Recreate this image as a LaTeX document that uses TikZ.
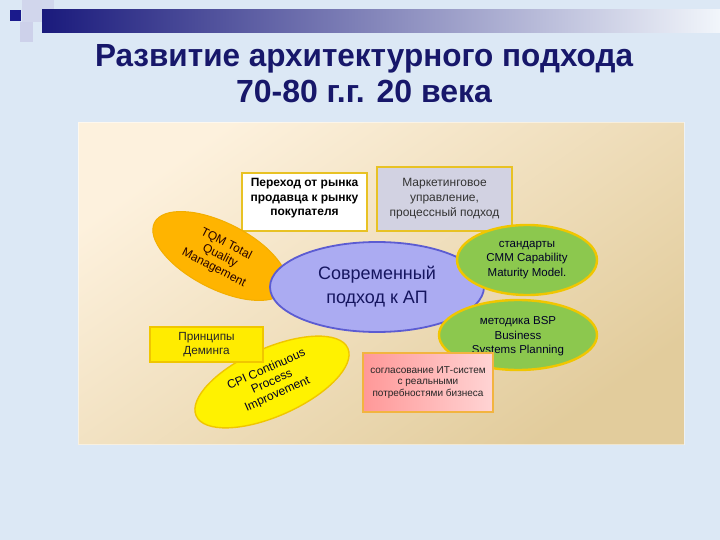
\documentclass[tikz,border=0pt]{standalone}
\usepackage{fontspec}
\usepackage{graphicx}
\setmainfont{Liberation Sans}
\usetikzlibrary{shapes.geometric}
\definecolor{bg}{HTML}{DCE8F5}
\definecolor{navy}{HTML}{17176A}
\definecolor{barL}{HTML}{1A1A7C}
\definecolor{barR}{HTML}{F2F6FB}
\definecolor{panelA}{HTML}{FDF1DD}
\definecolor{panelB}{HTML}{E2CC9C}
\definecolor{boxgold}{HTML}{E8C224}
\definecolor{box2fill}{HTML}{D2D2E2}
\definecolor{tqmfill}{HTML}{FFB400}
\definecolor{tqmline}{HTML}{F2AE00}
\definecolor{centfill}{HTML}{ABABF2}
\definecolor{centline}{HTML}{5C5CD2}
\definecolor{greenfill}{HTML}{8CC84E}
\definecolor{greenline}{HTML}{F0C600}
\definecolor{yelfill}{HTML}{FFEC00}
\definecolor{cpifill}{HTML}{FFF200}
\definecolor{pinkL}{HTML}{FF9898}
\definecolor{pinkR}{HTML}{FFD4D4}
\definecolor{pinkline}{HTML}{F2B440}
\definecolor{sqdark}{HTML}{1A1A8C}
\definecolor{sqlight}{HTML}{C8C8E6}
\begin{document}
\begin{tikzpicture}[x=1pt,y=-1pt,
  box/.style={draw=boxgold, line width=1.8pt, inner sep=0pt, align=center},
  ell/.style={ellipse, inner sep=0pt, align=center},
  small/.style={font=\fontsize{11.5}{14.5}\selectfont},
  titlefont/.style={font=\bfseries\fontsize{32}{36}\selectfont, text=navy, inner sep=0pt, anchor=base}]
\useasboundingbox (0,0) rectangle (720,540);
\fill[bg] (0,0) rectangle (720,540);
% decoration squares and bar
\fill[sqlight, opacity=0.55] (22,0) rectangle (42,22);
\fill[sqlight, opacity=0.7] (20,22) rectangle (33,42);
\fill[sqlight, opacity=0.5] (42,0) rectangle (54,22);
\shade[left color=barL, right color=barR] (42,10) rectangle (720,33);
\fill[sqdark] (10,10) rectangle (21,21);
% title
\node[titlefont] (t1) at (364,67) {\resizebox{538pt}{\height}{Развитие архитектурного подхода}};
\node[titlefont] (t2) at (364,103) {70-80 г.г. 20 века};
% panel
\shade[top color=panelA, bottom color=panelB, shading angle=35] (78,123) rectangle (684,444);
\draw[white, opacity=0.5, line width=1pt] (78,123) rectangle (684,444);
% boxes
\node[box, fill=white, minimum width=125pt, minimum height=58pt, text depth=10pt,
  font=\bfseries\fontsize{12}{14.5}\selectfont] (b1) at (304.5,202)
  {Переход от рынка\\продавца к рынку\\покупателя};
\node[box, fill=box2fill, text=black!80, minimum width=135pt, minimum height=64pt,
  font=\fontsize{12}{15}\selectfont] (b2) at (444.5,199)
  {Маркетинговое\\управление,\\процессный подход};
% TQM ellipse
\node[ell, fill=tqmfill, draw=tqmline, line width=1pt, minimum width=147pt, minimum height=66pt,
  rotate=-27, text=black!85!red, font=\fontsize{12}{13.5}\selectfont] (tqm) at (220,256)
  {TQM Total\\Quality\\Management};
% central ellipse
\node[ell, fill=centfill, draw=centline, line width=1.8pt, minimum width=214pt, minimum height=90pt,
  text=navy!90!black, font=\fontsize{18}{24}\selectfont] (cent) at (377,287)
  {Современный\\подход к АП};
% green ellipses
\node[ell, fill=greenfill, draw=greenline, line width=2.4pt, minimum width=140pt, minimum height=70pt,
  text=black!85!blue, small] (cmm) at (527,260)
  {стандарты\\CMM Capability\\Maturity Model.};
\node[ell, fill=greenfill, draw=greenline, line width=2.4pt, minimum width=158pt, minimum height=70pt,
  text=black!85!blue, small, text depth=0pt] (bsp) at (518,335)
  {методика BSP\\Business\\Systems Planning};
% CPI ellipse
\node[ell, fill=cpifill, draw=greenline, line width=1.4pt, minimum width=166pt, minimum height=68pt,
  rotate=24, text=black!85!blue, font=\fontsize{12}{13.5}\selectfont] (cpi) at (272,382)
  {CPI Continuous\\Process\\Improvement};
% Deming box
\node[box, fill=yelfill, draw=greenline, text=black!85, minimum width=113pt, minimum height=35pt,
  font=\fontsize{11.8}{14}\selectfont] (dem) at (206.5,344.5)
  {Принципы\\Деминга};
% pink box
\node[box, left color=pinkL, right color=pinkR, draw=pinkline, line width=2pt, text=black!85,
  minimum width=130pt, minimum height=59pt, font=\fontsize{10}{11.5}\selectfont] (pink) at (428,382.5)
  {согласование ИТ-систем\\с реальными\\потребностями бизнеса};
\end{tikzpicture}
\end{document}
